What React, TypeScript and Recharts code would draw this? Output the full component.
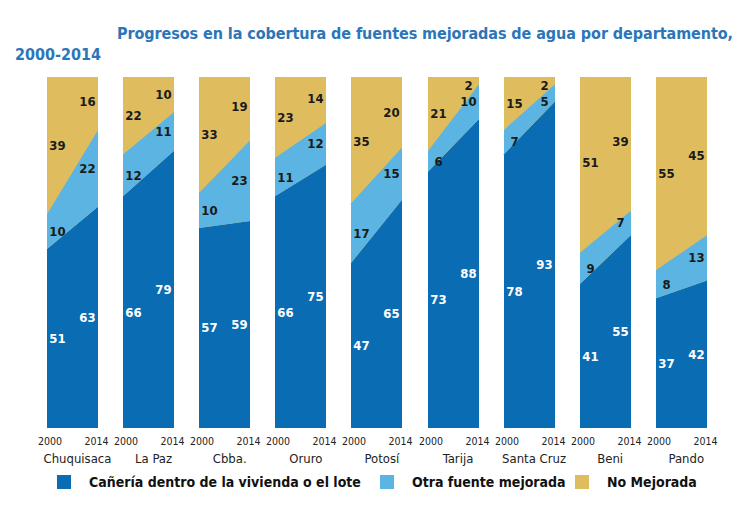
import React from 'react';
import { AreaChart, Area, XAxis, YAxis, CartesianGrid } from 'recharts';

const departments = ['Chuquisaca', 'La Paz', 'Cbba.', 'Oruro', 'Potosí', 'Tarija', 'Santa Cruz', 'Beni', 'Pando'];
const years = [2000, 2014];
const pipe2000 = [51, 66, 57, 66, 47, 73, 78, 41, 37];
const pipe2014 = [63, 79, 59, 75, 65, 88, 93, 55, 42];
const other2000 = [10, 12, 10, 11, 17, 6, 7, 9, 8];
const other2014 = [22, 11, 23, 12, 15, 10, 5, 7, 13];
const none2000 = [39, 22, 33, 23, 35, 21, 15, 51, 55];
const none2014 = [16, 10, 19, 14, 20, 2, 2, 39, 45];

const DARK = '#0a6db3';
const LIGHT = '#5bb4e1';
const GOLD = '#dfbd5f';
const FONT = '"DejaVu Sans Condensed", "DejaVu Sans", sans-serif';

const PLOT_H = 351;
const PX = PLOT_H / 100;
const LEFT0 = 47;
const STEP = 76.1;
const SIDE = 14;
const TOP = 10;

// label sits mid-segment, pushed down when the segment is too thin near the top
const makeLabel = (seg: number[], color: string, above: number[] | null) => (props: any) => {
  const vb = props.viewBox || {};
  const x = props.x ?? vb.x;
  const y = props.y ?? vb.y;
  const index = props.index;
  const v = seg[index];
  const dx = index === 0 ? 10.5 : -10.5;
  const minY = TOP + 8;
  let ly = Math.max(y + (v * PX) / 2, minY);
  if (above) {
    const a = above[index];
    const aboveY = Math.max(y - a * PX + (a * PX) / 2, minY);
    ly = Math.max(ly, aboveY + 16);
  }
  return (
    <text
      key={`l-${index}`}
      x={x + dx}
      y={ly}
      fill={color}
      textAnchor="middle"
      dominantBaseline="central"
      fontSize={13}
      fontWeight="bold"
      fontFamily={FONT}
    >
      {v}
    </text>
  );
};

const YearTick = (props: any) => {
  const { x, y, payload, index } = props;
  const dx = index === 0 ? 3 : -1.5;
  return (
    <text x={x + dx} y={y + 9} textAnchor="middle" fontSize={10.5} fill="#222" fontFamily={FONT}>
      {payload.value}
    </text>
  );
};

function Panel({ i }: { i: number }) {
  const data = years.map((year, k) => ({
    year,
    pipe: k === 0 ? pipe2000[i] : pipe2014[i],
    other: k === 0 ? other2000[i] : other2014[i],
    none: k === 0 ? none2000[i] : none2014[i],
  }));
  const pipeSeg = data.map((d) => d.pipe);
  const otherSeg = data.map((d) => d.other);
  const noneSeg = data.map((d) => d.none);
  return (
    <div style={{ position: 'absolute', left: LEFT0 + i * STEP - SIDE, top: 77 - TOP }}>
      <AreaChart width={51 + SIDE * 2} height={PLOT_H + TOP + 24} data={data} margin={{ top: TOP, right: SIDE, bottom: 0, left: SIDE }}>
        <CartesianGrid horizontal={false} vertical={false} fill={GOLD} stroke="none" />
        <XAxis
          dataKey="year"
          type="number"
          domain={[2000, 2014]}
          ticks={years}
          interval={0}
          axisLine={false}
          tickLine={false}
          height={24}
          tick={<YearTick />}
        />
        <YAxis hide domain={[0, 100]} allowDataOverflow />
        <Area type="linear" dataKey="pipe" stackId="s" stroke="none" fill={DARK} fillOpacity={1} isAnimationActive={false} label={makeLabel(pipeSeg, '#fff', null)} />
        <Area type="linear" dataKey="other" stackId="s" stroke="none" fill={LIGHT} fillOpacity={1} isAnimationActive={false} label={makeLabel(otherSeg, '#1a1a1a', noneSeg)} />
        <Area type="linear" dataKey="none" stackId="s" stroke="none" fill={GOLD} fillOpacity={1} isAnimationActive={false} label={makeLabel(noneSeg, '#1a1a1a', null)} />
      </AreaChart>
    </div>
  );
}

const legendItems = [
  { label: 'Cañería dentro de la vivienda o el lote', color: DARK, x: 57 },
  { label: 'Otra fuente mejorada', color: LIGHT, x: 380 },
  { label: 'No Mejorada', color: GOLD, x: 575 },
];

export default function App() {
  return (
    <div style={{ position: 'absolute', left: 0, top: 0, width: 749, height: 505, background: '#fff', overflow: 'hidden', fontFamily: FONT }}>
      <div style={{ position: 'absolute', left: 117, top: 24 }}>
        <svg width={616} height={20} style={{ display: 'block' }}>
          <text x={0} y={15} textLength={616} lengthAdjust="spacing" fill="#2b76b9" fontSize={16} fontWeight="bold" fontFamily={FONT}>
            Progresos en la cobertura de fuentes mejoradas de agua por departamento,
          </text>
        </svg>
      </div>
      <div style={{ position: 'absolute', left: 15, top: 45, fontSize: 16, fontWeight: 'bold', color: '#2b76b9', lineHeight: '20px' }}>2000-2014</div>
      {departments.map((_, i) => (
        <Panel key={i} i={i} />
      ))}
      {departments.map((name, i) => (
        <div
          key={name}
          style={{ position: 'absolute', left: LEFT0 + i * STEP + 25.5 + 5 - 50, top: 451, width: 100, textAlign: 'center', fontSize: 13, color: '#222', lineHeight: '16px' }}
        >
          {name}
        </div>
      ))}
      {legendItems.map((it) => (
        <div key={it.label} style={{ position: 'absolute', left: it.x, top: 474, display: 'flex', alignItems: 'center', height: 16 }}>
          <span style={{ display: 'inline-block', width: 14, height: 14, background: it.color, marginRight: 18 }} />
          <span style={{ fontSize: 14, fontWeight: 'bold', color: '#111', whiteSpace: 'nowrap' }}>{it.label}</span>
        </div>
      ))}
    </div>
  );
}
